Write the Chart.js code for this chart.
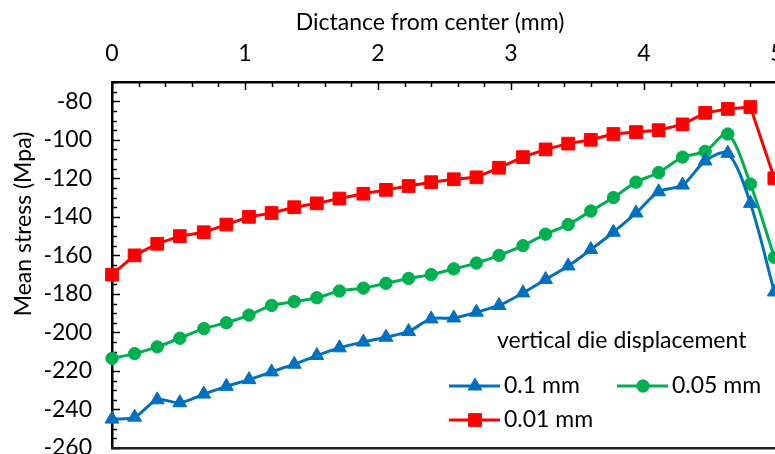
<!DOCTYPE html>
<html>
<head>
<meta charset="utf-8">
<script src="https://cdn.jsdelivr.net/npm/chart.js@4.4.1/dist/chart.umd.min.js"></script>
<style>
  html, body { margin: 0; padding: 0; background: #fff; overflow: hidden; }
  #wrap { width: 820px; height: 500px; }
</style>
</head>
<body>
<div id="wrap"><canvas id="stress-chart" width="820" height="500"></canvas></div>
<script>
// distance from center (mm), same nodes for all three curves
const distance = [0, 0.17, 0.34, 0.51, 0.69, 0.86, 1.03, 1.2, 1.37, 1.54,
  1.71, 1.89, 2.06, 2.23, 2.4, 2.57, 2.74, 2.91, 3.09, 3.26,
  3.43, 3.6, 3.77, 3.94, 4.11, 4.29, 4.46, 4.63, 4.8, 4.98];

// mean stress (MPa) for each vertical die displacement
const stress01 = [-245, -244, -235, -236.5, -232, -228, -224.5, -220.5, -216.5, -212,
  -208, -205, -202.5, -199.5, -193, -192.5, -189.5, -186, -179.5, -172.5,
  -165.5, -157, -148, -138, -127, -123.5, -111, -107, -133, -179];
const stress005 = [-213.5, -211, -207.5, -203, -198, -195, -191, -186, -184, -182,
  -178.5, -177, -174.5, -172, -170, -167, -164, -160, -155, -149,
  -144, -137, -130, -122, -117, -109, -106, -97, -123, -161];
const stress001 = [-170, -160, -154, -150, -148, -144, -140, -138, -135, -133,
  -130.5, -128, -126, -124, -122, -120.5, -119.5, -114.5, -109, -105,
  -102, -100, -97, -96, -95, -92, -86, -84, -83, -120];

const seriesLabels = ['0.1 mm', '0.05 mm', '0.01 mm'];
const xTitle = 'Dictance from center (mm)';
const yTitle = 'Mean stress (Mpa)';
const legendTitle = 'vertical die displacement';

const FONT = 'Lato, "Open Sans", sans-serif';
const FSIZE = 23;

function points(ys) {
  return distance.map((x, i) => ({ x: x, y: ys[i] }));
}

// inward tick marks, bottom frame line, axis titles and the legend box
const decorations = {
  id: 'decorations',
  beforeDatasetsDraw(chart) {
    const ctx = chart.ctx;
    const a = chart.chartArea;
    const xs = chart.scales.x;
    const ys = chart.scales.y;
    ctx.save();
    ctx.strokeStyle = '#000';
    ctx.lineWidth = 1.5;
    xs.ticks.forEach(t => {
      const px = Math.round(xs.getPixelForValue(t.value)) + 0.5;
      const major = Math.abs(t.value - Math.round(t.value)) < 1e-6;
      ctx.beginPath();
      ctx.moveTo(px, a.top);
      ctx.lineTo(px, a.top + (major ? 8 : 5));
      ctx.stroke();
    });
    ys.ticks.forEach(t => {
      const py = Math.round(ys.getPixelForValue(t.value)) + 0.5;
      const major = t.value % 20 === 0;
      ctx.beginPath();
      ctx.moveTo(a.left, py);
      ctx.lineTo(a.left + (major ? 8 : 5), py);
      ctx.stroke();
    });
    ctx.restore();
  },
  afterDraw(chart) {
    const ctx = chart.ctx;
    const a = chart.chartArea;
    ctx.save();
    // bottom edge of the plot area
    ctx.fillStyle = '#202020';
    ctx.fillRect(a.left - 1, a.bottom - 1, chart.width - a.left, 2.5);

    ctx.fillStyle = '#000';
    ctx.font = FSIZE + 'px ' + FONT;
    ctx.textAlign = 'center';
    ctx.textBaseline = 'alphabetic';
    ctx.fillText(xTitle, 430, 30);

    ctx.save();
    ctx.translate(31, 224);
    ctx.rotate(-Math.PI / 2);
    ctx.fillText(yTitle, 0, 0);
    ctx.restore();

    ctx.textAlign = 'left';
    ctx.fillText(legendTitle, 497, 348);

    const slots = [[449, 386], [617, 386], [449, 420]];
    chart.data.datasets.forEach((ds, i) => {
      const [lx, ly] = slots[i];
      ctx.strokeStyle = ds.borderColor;
      ctx.fillStyle = ds.backgroundColor;
      ctx.lineWidth = 3;
      ctx.beginPath();
      ctx.moveTo(lx, ly);
      ctx.lineTo(lx + 51, ly);
      ctx.stroke();
      ctx.lineWidth = 1;
      Chart.helpers.drawPoint(ctx, {
        pointStyle: ds.pointStyle, radius: ds.pointRadius, borderWidth: 1, rotation: 0
      }, lx + 26, ly);
      ctx.fillStyle = '#000';
      ctx.fillText(ds.label, lx + 55, ly + 7);
    });
    ctx.restore();
  }
};

const ctx = document.getElementById('stress-chart').getContext('2d');
new Chart(ctx, {
  type: 'line',
  data: {
    datasets: [
      {
        label: seriesLabels[0],
        data: points(stress01),
        borderColor: '#0070C0',
        backgroundColor: '#0070C0',
        pointStyle: 'triangle',
        pointRadius: 8,
        tension: 0.3
      },
      {
        label: seriesLabels[1],
        data: points(stress005),
        borderColor: '#00B050',
        backgroundColor: '#00B050',
        pointStyle: 'circle',
        pointRadius: 6.2,
        tension: 0.3
      },
      {
        label: seriesLabels[2],
        data: points(stress001),
        borderColor: '#FF0000',
        backgroundColor: '#FF0000',
        pointStyle: 'rect',
        pointRadius: 9,
        tension: 0
      }
    ]
  },
  options: {
    responsive: false,
    animation: false,
    devicePixelRatio: 1,
    clip: false,
    layout: { padding: { left: 0, top: 0, right: 43, bottom: 52 } },
    elements: {
      line: { borderWidth: 3 },
      point: { borderWidth: 1, hoverRadius: 8 }
    },
    plugins: {
      legend: { display: false },
      tooltip: { enabled: false }
    },
    scales: {
      x: {
        type: 'linear',
        position: 'top',
        min: 0,
        max: 5,
        afterFit: s => { s.height = 82; },
        grid: { display: false, drawTicks: false },
        border: { display: true, color: '#000', width: 2.5 },
        ticks: {
          stepSize: 0.2,
          autoSkip: false,
          maxRotation: 0,
          padding: 15,
          color: '#000',
          font: { family: FONT, size: FSIZE },
          callback: v => Math.abs(v - Math.round(v)) < 1e-6 ? Math.round(v) : ''
        }
      },
      y: {
        min: -260,
        max: -70,
        afterFit: s => { s.width = 112; },
        grid: { display: false, drawTicks: false },
        border: { display: true, color: '#000', width: 2.5 },
        ticks: {
          stepSize: 5,
          autoSkip: false,
          padding: 20,
          color: '#000',
          font: { family: FONT, size: FSIZE },
          callback: v => v % 20 === 0 ? v : ''
        }
      }
    }
  },
  plugins: [decorations]
});
</script>
</body>
</html>
